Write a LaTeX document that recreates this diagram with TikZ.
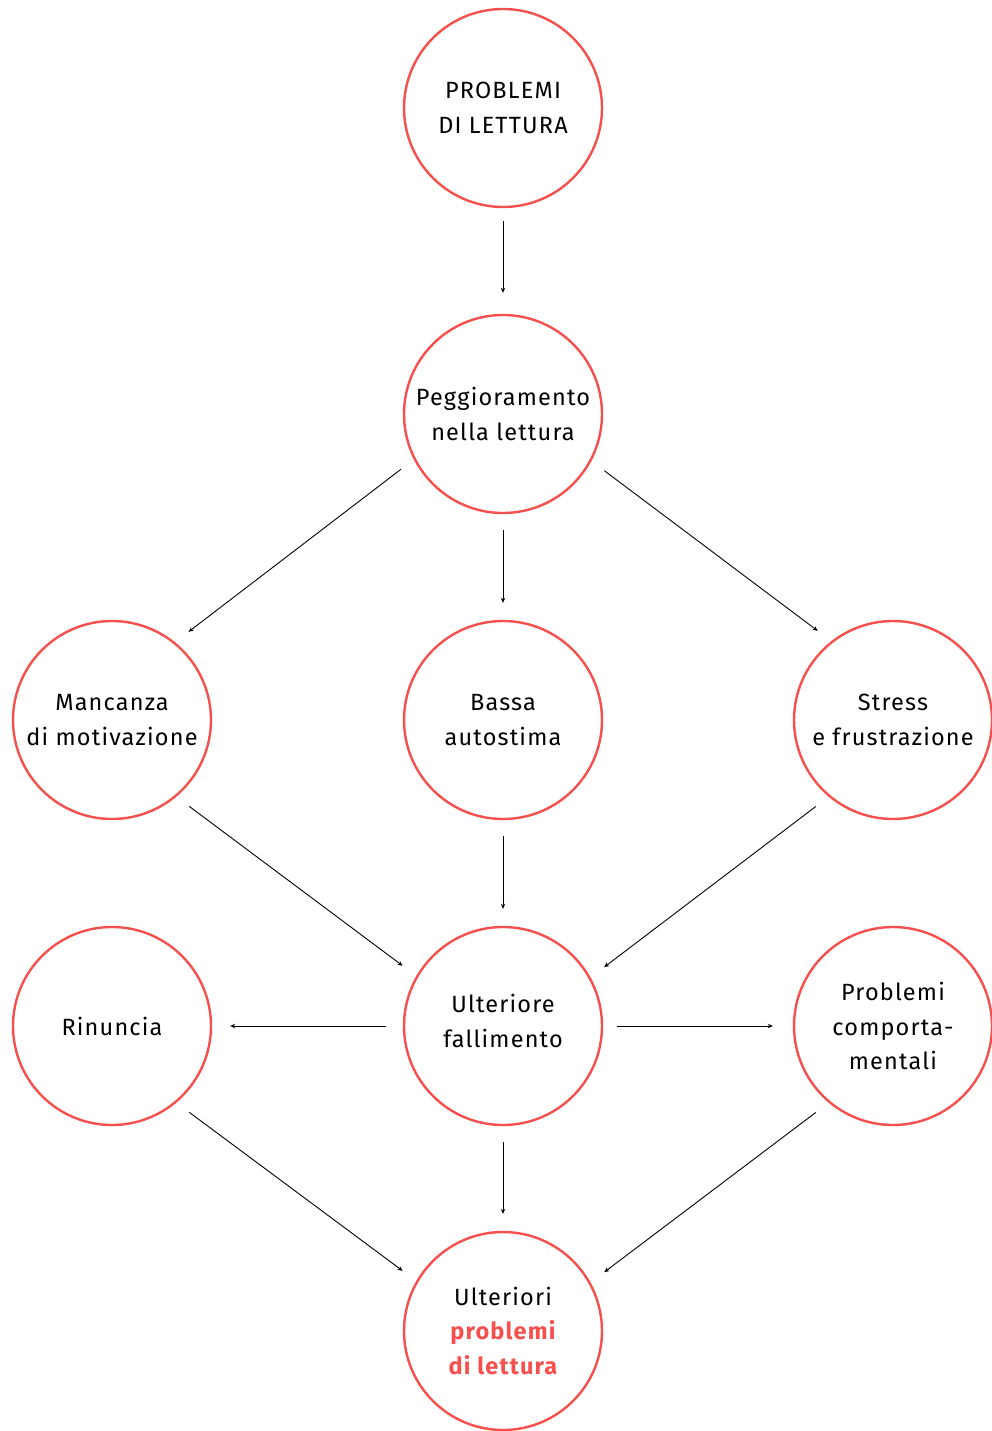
\documentclass[tikz,border=0pt]{standalone}
\usepackage{fontspec}
\setmainfont[LetterSpace=5]{Fira Sans}
\usetikzlibrary{arrows.meta}
\definecolor{accent}{RGB}{245,80,78}
\tikzset{
  bubble/.style={circle, draw=accent, line width=2.4pt, minimum size=198pt, inner sep=0pt,
    align=center, font=\fontsize{23.5}{34.5}\selectfont, text=black},
  link/.style={line width=0.9pt, -{Stealth[length=5pt,width=4.5pt]}, shorten <=16pt, shorten >=17pt},
}
\newcommand{\hot}[1]{{\color{accent}\bfseries #1}}
\begin{document}
\begin{tikzpicture}[x=1pt,y=1pt]
\useasboundingbox (0,0) rectangle (991,-1431);
\node[bubble] (top) at (503,-108) {PROBLEMI\\DI LETTURA};
\node[bubble] (peg) at (503,-414) {Peggioramento\\nella lettura};
\node[bubble] (man) at (112,-720) {Mancanza\\di motivazione};
\node[bubble] (bas) at (503,-720) {Bassa\\autostima};
\node[bubble] (str) at (893,-720) {Stress\\e frustrazione};
\node[bubble] (rin) at (112,-1026) {Rinuncia};
\node[bubble] (ult) at (503,-1026) {Ulteriore\\fallimento\rule[-10pt]{0pt}{0pt}};
\node[bubble] (pro) at (893,-1026) {Problemi\\comporta-\\mentali};
\node[bubble] (fin) at (503,-1331) {Ulteriori\\\hot{problemi}\\\hot{di lettura}};
% vertical links
\draw[link, shorten <=13pt, shorten >=21pt] (top.south) -- (peg.north);
\draw[link] (peg.south) -- (bas.north);
\draw[link] (bas.south) -- (ult.north);
\draw[link] (ult.south) -- (fin.north);
% diagonal links
\draw[link] (peg.207.7) -- (man.51.2);
\draw[link] (peg.332.3) -- (str.128.8);
\draw[link] (man.310) -- (ult.150.6);
\draw[link] (str.230) -- (ult.29.4);
\draw[link] (rin.310) -- (fin.150.6);
\draw[link] (pro.230) -- (fin.29.4);
% horizontal links
\draw[link, shorten <=17pt, shorten >=18pt] (ult.west) -- (rin.east);
\draw[link, shorten <=14pt, shorten >=20pt] (ult.east) -- (pro.west);
\end{tikzpicture}
\end{document}
